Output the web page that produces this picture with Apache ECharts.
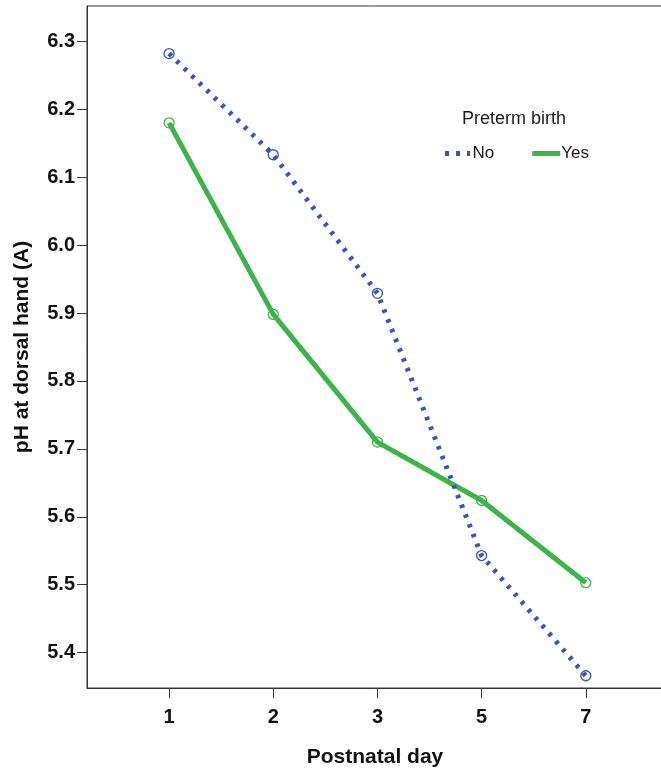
<!DOCTYPE html>
<html>
<head>
<meta charset="utf-8">
<script src="https://cdn.jsdelivr.net/npm/echarts@6/dist/echarts.min.js"></script>
<style>
  html, body { margin: 0; padding: 0; background: #fff; overflow: hidden; }
  #chart { width: 661px; height: 772px; }
</style>
</head>
<body>
<div id="chart"></div>
<script>
// 数据
const days = ['1', '2', '3', '5', '7']
const noPreterm = [6.282, 6.133, 5.929, 5.543, 5.366]
const yesPreterm = [6.180, 5.898, 5.710, 5.624, 5.503]
const yTicks = [5.4, 5.5, 5.6, 5.7, 5.8, 5.9, 6.0, 6.1, 6.2, 6.3]

const blue = '#3a55b6'
const green = '#3cb44a'
const font = 'Liberation Sans, Arial, sans-serif'

// x轴按序号放置，标签显示天数
const xIdx = days.map((d, i) => i + 1)
const toPairs = arr => arr.map((v, i) => [xIdx[i], v])

const chart = echarts.init(document.getElementById('chart'))

const option = {
  animation: false,
  textStyle: { fontFamily: font },
  title: {
    text: 'Preterm birth',
    left: 457,
    top: 105,
    textStyle: { fontSize: 18, fontWeight: 'normal', color: '#1a1a1a', fontFamily: font }
  },
  legend: {
    left: 440,
    top: 140,
    itemGap: 38,
    itemWidth: 28,
    itemHeight: 5,
    textStyle: { fontSize: 17, color: '#1a1a1a', fontFamily: font, padding: [0, 0, 0, -4] },
    data: [
      { name: 'No', icon: 'path://M0,0h4v5h-4z M11,0h4v5h-4z M22,0h3v5h-3z M25,0h0.1v5h-0.1z', itemStyle: { color: blue, borderWidth: 0 } },
      { name: 'Yes', icon: 'rect', itemStyle: { color: green, borderWidth: 0 } }
    ]
  },
  grid: {
    left: 87,
    right: -2,
    top: 6,
    bottom: 84,
    outerBoundsMode: 'none',
    containLabel: false,
    show: true,
    borderColor: '#333',
    borderWidth: 1
  },
  xAxis: {
    type: 'value',
    min: 0.212,
    max: 5.741,
    name: 'Postnatal day',
    nameLocation: 'middle',
    nameGap: 59,
    nameTextStyle: { fontSize: 21, fontWeight: 'bold', color: '#111', fontFamily: font },
    axisLine: { onZero: false, lineStyle: { color: '#333', width: 1 } },
    axisTick: { show: true, length: 10, customValues: xIdx, lineStyle: { color: '#333' } },
    axisLabel: {
      customValues: xIdx,
      margin: 19,
      fontSize: 20,
      fontWeight: 'bold',
      color: '#111',
      formatter: v => days[Math.round(v) - 1] || ''
    },
    splitLine: { show: false }
  },
  yAxis: {
    type: 'value',
    min: 5.348,
    max: 6.352,
    name: 'pH at dorsal hand (A)',
    nameLocation: 'middle',
    nameGap: 54,
    nameTextStyle: { fontSize: 21, fontWeight: 'bold', color: '#111', fontFamily: font },
    axisLine: { show: true, lineStyle: { color: '#333', width: 1 } },
    axisTick: { show: true, length: 10, customValues: yTicks, lineStyle: { color: '#333' } },
    axisLabel: {
      customValues: yTicks,
      margin: 12,
      fontSize: 20,
      fontWeight: 'bold',
      color: '#111',
      formatter: v => v.toFixed(1)
    },
    splitLine: { show: false }
  },
  series: [
    {
      name: 'No',
      type: 'line',
      data: toPairs(noPreterm),
      color: blue,
      symbol: 'circle',
      symbolSize: 10,
      itemStyle: { color: 'rgba(255,255,255,0)', borderColor: blue, borderWidth: 1.3 },
      lineStyle: { color: blue, width: 5, type: [3.5, 7], cap: 'butt' },
      z: 3
    },
    {
      name: 'Yes',
      type: 'line',
      data: toPairs(yesPreterm),
      color: green,
      symbol: 'circle',
      symbolSize: 10,
      itemStyle: { color: 'rgba(255,255,255,0)', borderColor: green, borderWidth: 1.3 },
      lineStyle: { color: green, width: 5 },
      z: 2
    }
  ]
}

chart.setOption(option)
</script>
</body>
</html>
